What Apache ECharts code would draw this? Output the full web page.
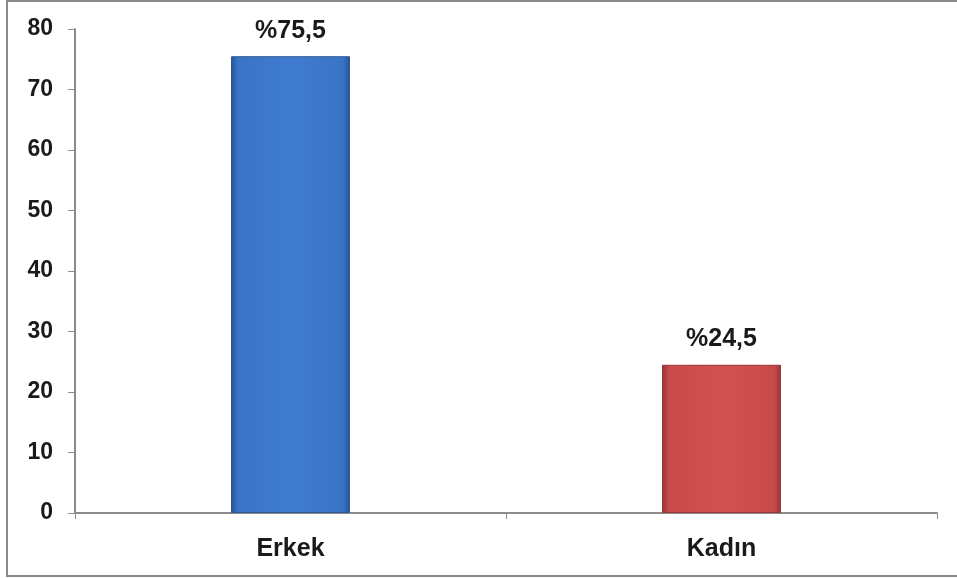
<!DOCTYPE html>
<html>
<head>
<meta charset="utf-8">
<script src="https://cdn.jsdelivr.net/npm/echarts@6/dist/echarts.min.js"></script>
<style>
html,body{margin:0;padding:0;background:#fff;}
#c{width:957px;height:578px;}
</style>
</head>
<body>
<div id="c"></div>
<script>
const categories = ['Erkek', 'Kadın'];
const values = [75.5, 24.5];
const valueLabels = ['%75,5', '%24,5'];
const yTicks = [0, 10, 20, 30, 40, 50, 60, 70, 80];

const chart = echarts.init(document.getElementById('c'));
function grad(light, mid, dark) {
  return new echarts.graphic.LinearGradient(0, 0, 1, 0, [
    {offset: 0, color: dark},
    {offset: 0.06, color: mid},
    {offset: 0.5, color: light},
    {offset: 0.94, color: mid},
    {offset: 1, color: dark}
  ]);
}
const colors = [
  grad('#3f7ccf', '#3a74c6', '#2a5593'),
  grad('#d25050', '#c94a4a', '#9a3434')
];
chart.setOption({
  animation: false,
  graphic: [{
    type: 'rect',
    shape: {x: 7, y: 1, width: 980, height: 575},
    style: {fill: 'none', stroke: '#8a8a8a', lineWidth: 2},
    silent: true
  }],
  grid: {left: 75, right: 20, top: 29, bottom: 65},
  xAxis: {
    type: 'category',
    data: categories,
    axisLine: {lineStyle: {color: '#8c8c8c', width: 2}},
    axisTick: {show: true, length: 6, lineStyle: {color: '#8c8c8c'}},
    axisLabel: {color: '#1a1a1a', fontSize: 25, fontWeight: 'bold', fontFamily: 'Liberation Sans, Arial', margin: 24}
  },
  yAxis: {
    type: 'value',
    min: yTicks[0],
    max: yTicks[yTicks.length - 1],
    interval: 10,
    axisLine: {show: true, lineStyle: {color: '#8c8c8c', width: 2}},
    axisTick: {show: true, length: 7, lineStyle: {color: '#8c8c8c'}},
    splitLine: {show: false},
    axisLabel: {color: '#1a1a1a', fontSize: 23, fontWeight: 'bold', fontFamily: 'Liberation Sans, Arial', margin: 22}
  },
  series: [{
    type: 'bar',
    barWidth: '27.6%',
    data: values.map((v, i) => ({
      value: v,
      itemStyle: {color: colors[i], borderColor: i === 0 ? '#2c5794' : '#983535', borderWidth: 1}
    })),
    label: {
      show: true,
      position: 'top',
      distance: 13,
      color: '#1a1a1a',
      fontSize: 25,
      fontWeight: 'bold',
      fontFamily: 'Liberation Sans, Arial',
      formatter: p => valueLabels[p.dataIndex]
    }
  }]
});
</script>
</body>
</html>
